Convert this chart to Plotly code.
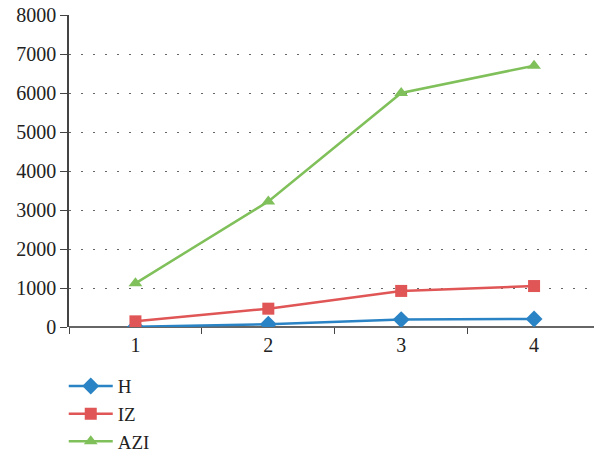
import plotly.graph_objects as go

# Data
x_vals = [1, 2, 3, 4]
h_vals = [5, 70, 190, 205]
iz_vals = [145, 470, 925, 1050]
azi_vals = [1120, 3220, 6000, 6700]
y_ticks = [0, 1000, 2000, 3000, 4000, 5000, 6000, 7000, 8000]

serif = "Liberation Serif"

fig = go.Figure()
fig.add_trace(go.Scatter(
    x=x_vals, y=h_vals, name="H", mode="lines+markers",
    line=dict(color="#2a83c4", width=2.5),
    marker=dict(symbol="diamond", size=13, color="#2a83c4"),
))
fig.add_trace(go.Scatter(
    x=x_vals, y=iz_vals, name="IZ", mode="lines+markers",
    line=dict(color="#e05555", width=2.5),
    marker=dict(symbol="square", size=12, color="#e05555"),
))
fig.add_trace(go.Scatter(
    x=x_vals, y=azi_vals, name="AZI", mode="lines+markers",
    line=dict(color="#80c05a", width=2.5),
    marker=dict(symbol="triangle-up", size=12, color="#80c05a"),
))

fig.update_layout(
    width=594, height=456,
    margin=dict(l=69, r=0, t=15, b=129),
    paper_bgcolor="white", plot_bgcolor="white",
    font=dict(family=serif, size=20, color="#222"),
    showlegend=True,
    legend=dict(
        orientation="v", xref="paper", x=-0.01, xanchor="left",
        yref="container", y=0.195, yanchor="top",
        font=dict(family=serif, size=19, color="#222"),
        tracegroupgap=0, itemwidth=44,
    ),
    xaxis=dict(
        range=[0.5, 4.451],
        tickvals=x_vals, ticktext=[str(v) for v in x_vals],
        ticks="", showgrid=False, zeroline=False,
        showline=False, ticklabelstandoff=4,
        minor=dict(tickvals=[0.5, 1.5, 2.5, 3.5], ticks="outside",
                   ticklen=6, tickwidth=1.2, tickcolor="#444", showgrid=False),
        tickfont=dict(family=serif, size=20, color="#222"),
    ),
    yaxis=dict(
        range=[0, 8000],
        tickvals=y_ticks,
        ticks="outside", ticklen=7, tickwidth=1.2, tickcolor="#444",
        showline=True, linecolor="#444", linewidth=1.5,
        showgrid=True, gridcolor="#666", gridwidth=1.3, griddash="1.5px,10.5px",
        zeroline=True, zerolinecolor="#666", zerolinewidth=1.8,
        tickfont=dict(family=serif, size=20, color="#222"),
    ),
)

fig.write_html("out.html")
